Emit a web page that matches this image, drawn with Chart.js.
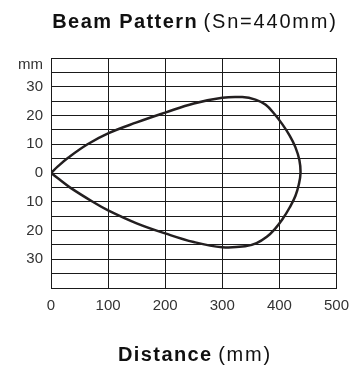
<!DOCTYPE html>
<html>
<head>
<meta charset="utf-8">
<script src="https://cdn.jsdelivr.net/npm/chart.js@4/dist/chart.umd.min.js"></script>
<style>
  html, body { margin: 0; padding: 0; background: #fff; }
  #wrap { position: relative; width: 358px; height: 370px; font-family: "Liberation Sans", Arial, sans-serif; color: #111; }
  #beam { position: absolute; left: 0; top: 0; }
  .caption { position: absolute; left: 51px; width: 288px; text-align: center; white-space: nowrap; line-height: 1; font-size: 20px; }
  .caption b { letter-spacing: 1.4px; }
  .caption span { letter-spacing: 1.8px; }
</style>
</head>
<body>
<div id="wrap">
  <canvas id="beam" width="358" height="370"></canvas>
  <div class="caption" style="top:11px"><b>Beam Pattern</b> <span>(Sn=440mm)</span></div>
  <div class="caption" style="top:344px"><b>Distance</b> <span>(mm)</span></div>
</div>
<script>
// beam envelope, distance (mm) vs lateral offset (mm), traced out and back
const upperX = [0, 12, 30, 64, 100, 150, 200, 250, 300, 335, 358, 376, 391, 405, 418, 428, 435, 437];
const upperY = [0, 2.3, 5.3, 10, 13.8, 17.6, 21, 24.2, 26.2, 26.4, 25.5, 23.7, 20.6, 17, 13, 9, 4.5, 0];
const lowerX = [434, 428, 418, 405, 392, 378, 360, 340, 300, 250, 200, 150, 100, 73, 33, 15, 0];
const lowerY = [-4, -8, -12, -16.2, -19.5, -22.2, -24.4, -25.5, -25.8, -24, -21, -17.5, -13, -10, -5, -2.3, 0];

const xTicks = [0, 100, 200, 300, 400, 500];
const yLabels = [-30, -20, -10, 0, 10, 20, 30];
const yGrid = [-40, -35, -30, -25, -20, -15, -10, -5, 0, 5, 10, 15, 20, 25, 30, 35, 40];
const yUnitPos = 37.5;

const points = [];
upperX.forEach((x, i) => points.push({ x: x, y: upperY[i] }));
lowerX.forEach((x, i) => points.push({ x: x, y: lowerY[i] }));

const tickFont = { family: '"Liberation Sans", Arial, sans-serif', size: 15 };

new Chart(document.getElementById('beam'), {
    type: 'scatter',
    data: {
        datasets: [{
            data: points,
            showLine: true,
            tension: 0.4,
            borderColor: '#231f20',
            borderWidth: 2.5,
            pointRadius: 0,
            fill: false
        }]
    },
    options: {
        responsive: false,
        animation: false,
        devicePixelRatio: 1,
        layout: { padding: { top: 58, right: 19, left: 0, bottom: 0 } },
        plugins: { legend: { display: false }, tooltip: { enabled: false } },
        scales: {
            x: {
                type: 'linear',
                min: 0,
                max: 500,
                afterBuildTicks: (scale) => { scale.ticks = xTicks.map(v => ({ value: v })); },
                afterFit: (scale) => { scale.height = 82; },
                ticks: { font: tickFont, color: '#333', padding: 9, autoSkip: false, maxRotation: 0 },
                grid: { color: '#1a1a1a', lineWidth: 1, drawTicks: false },
                border: { color: '#1a1a1a', width: 1 }
            },
            y: {
                type: 'linear',
                min: -40,
                max: 40,
                afterBuildTicks: (scale) => {
                    scale.ticks = yGrid.concat([yUnitPos]).map(v => ({ value: v }));
                },
                afterFit: (scale) => { scale.width = 51; },
                ticks: {
                    font: tickFont,
                    color: '#333',
                    padding: 8,
                    autoSkip: false,
                    callback: (v) => {
                        if (v === yUnitPos) return 'mm';
                        return yLabels.includes(v) ? String(Math.abs(v)) : '';
                    }
                },
                grid: {
                    color: (ctx) => ctx.tick && ctx.tick.value === yUnitPos ? 'rgba(0,0,0,0)' : '#1a1a1a',
                    lineWidth: 1,
                    drawTicks: false
                },
                border: { color: '#1a1a1a', width: 1 }
            }
        }
    }
});
</script>
</body>
</html>
